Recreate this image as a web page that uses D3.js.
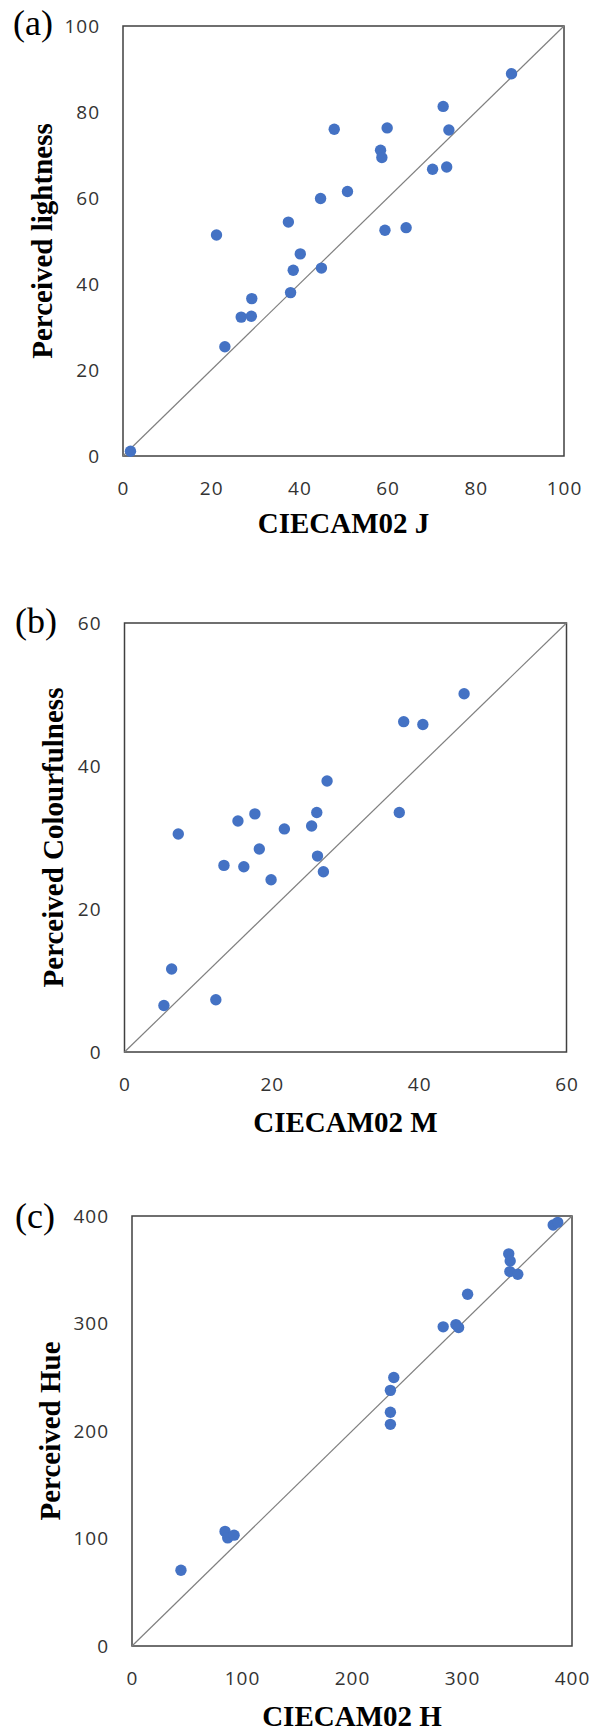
<!DOCTYPE html>
<html>
<head>
<meta charset="utf-8">
<script src="https://cdn.jsdelivr.net/npm/d3@7"></script>
<style>
  body { margin: 0; background: #fff; }
  svg { display: block; }
  .tick text { font-family: "Open Sans", sans-serif; font-size: 19px; fill: #333; letter-spacing: 1px; }
  .title { font-family: "Liberation Serif", "Times New Roman", serif; font-weight: bold; font-size: 29px; fill: #000; }
  .panel-label { font-family: "Liberation Serif", "Times New Roman", serif; font-size: 36px; fill: #000; }
</style>
</head>
<body>
<div id="chart"></div>
<script>
// (a) lightness
const jValues = [1.7, 23.1, 21.2, 26.8, 29.1, 29.2, 38.0, 37.5, 38.6, 40.2, 45.0, 44.8,
                 47.9, 50.9, 58.4, 58.7, 59.9, 59.4, 64.2, 70.2, 73.4, 72.6, 73.9, 88.1]
const lightness = [1.1, 25.4, 51.4, 32.3, 32.5, 36.6, 38.0, 54.4, 43.2, 47.0, 43.7, 59.9,
                   76.0, 61.5, 71.1, 69.4, 76.3, 52.5, 53.1, 66.7, 67.2, 81.3, 75.8, 88.9]

// (b) colourfulness
const mValues = [5.35, 6.4, 7.3, 12.4, 13.5, 15.4, 16.2, 17.7, 18.3, 19.9,
                 21.7, 25.4, 26.1, 26.2, 27.0, 27.5, 37.3, 37.9, 40.5, 46.1]
const colourfulness = [6.5, 11.6, 30.5, 7.3, 26.1, 32.3, 25.9, 33.3, 28.4, 24.1,
                       31.2, 31.6, 33.5, 27.4, 25.2, 37.9, 33.5, 46.2, 45.8, 50.1]

// (c) hue
const hValues = [44.5, 84.6, 87.0, 92.8, 234.9, 234.9, 234.9, 238.0, 282.9,
                 294.5, 296.9, 305.1, 342.5, 343.8, 343.5, 350.7, 382.9, 387.0]
const hue = [70.4, 106.6, 100.6, 103.1, 206.2, 217.4, 237.8, 249.8, 296.9,
             299.0, 296.2, 327.2, 364.8, 358.1, 348.3, 345.8, 391.6, 394.1]

const ticksA = [0, 20, 40, 60, 80, 100]
const ticksB = [0, 20, 40, 60]
const ticksC = [0, 100, 200, 300, 400]

const panels = [
  {label: '(a)', xs: jValues, ys: lightness, max: 100, ticks: ticksA,
   xTitle: 'CIECAM02 J', yTitle: 'Perceived lightness',
   box: {left: 123, right: 564, top: 26, bottom: 456},
   labelPos: [13, 35], yTitleX: 52, xTitleY: 533},
  {label: '(b)', xs: mValues, ys: colourfulness, max: 60, ticks: ticksB,
   xTitle: 'CIECAM02 M', yTitle: 'Perceived Colourfulness',
   box: {left: 124.5, right: 566.5, top: 623, bottom: 1052},
   labelPos: [15, 633], yTitleX: 63, xTitleY: 1132},
  {label: '(c)', xs: hValues, ys: hue, max: 400, ticks: ticksC,
   xTitle: 'CIECAM02 H', yTitle: 'Perceived Hue',
   box: {left: 132, right: 572, top: 1216, bottom: 1646},
   labelPos: [15, 1228], yTitleX: 60, xTitleY: 1726}
]

const svg = d3.select('#chart').append('svg')
  .attr('width', 590)
  .attr('height', 1733)

svg.append('rect').attr('width', 590).attr('height', 1733).attr('fill', '#fff')

panels.forEach(function(p) {
  const b = p.box
  const x = d3.scaleLinear().domain([0, p.max]).range([b.left, b.right])
  const y = d3.scaleLinear().domain([0, p.max]).range([b.bottom, b.top])
  const g = svg.append('g')

  // plot frame
  g.append('rect')
    .attr('x', b.left).attr('y', b.top)
    .attr('width', b.right - b.left).attr('height', b.bottom - b.top)
    .attr('fill', 'none')
    .attr('stroke', '#404040')
    .attr('stroke-width', 1.5)

  // 1:1 line
  g.append('line')
    .attr('x1', x(0)).attr('y1', y(0))
    .attr('x2', x(p.max)).attr('y2', y(p.max))
    .attr('stroke', '#7f7f7f')
    .attr('stroke-width', 1.2)

  // axes (labels only)
  const xAxis = g.append('g')
    .attr('transform', `translate(0, ${b.bottom})`)
    .call(d3.axisBottom(x).tickValues(p.ticks).tickSize(0).tickPadding(26))
  const yAxis = g.append('g')
    .attr('transform', `translate(${b.left}, 0)`)
    .call(d3.axisLeft(y).tickValues(p.ticks).tickSize(0).tickPadding(23))
  xAxis.select('.domain').remove()
  yAxis.select('.domain').remove()
  xAxis.attr('font-family', null).attr('font-size', null)
  yAxis.attr('font-family', null).attr('font-size', null)

  // points
  g.selectAll('circle')
    .data(p.xs.map((d, i) => [d, p.ys[i]]))
    .enter()
    .append('circle')
    .attr('cx', d => x(d[0]))
    .attr('cy', d => y(d[1]))
    .attr('r', 5.7)
    .attr('fill', '#4472C4')

  // titles
  g.append('text')
    .attr('class', 'title')
    .attr('x', (b.left + b.right) / 2)
    .attr('y', p.xTitleY)
    .style('text-anchor', 'middle')
    .text(p.xTitle)

  g.append('text')
    .attr('class', 'title')
    .attr('transform', `translate(${p.yTitleX}, ${(b.top + b.bottom) / 2}) rotate(-90)`)
    .style('text-anchor', 'middle')
    .text(p.yTitle)

  g.append('text')
    .attr('class', 'panel-label')
    .attr('x', p.labelPos[0])
    .attr('y', p.labelPos[1])
    .text(p.label)
})
</script>
</body>
</html>
